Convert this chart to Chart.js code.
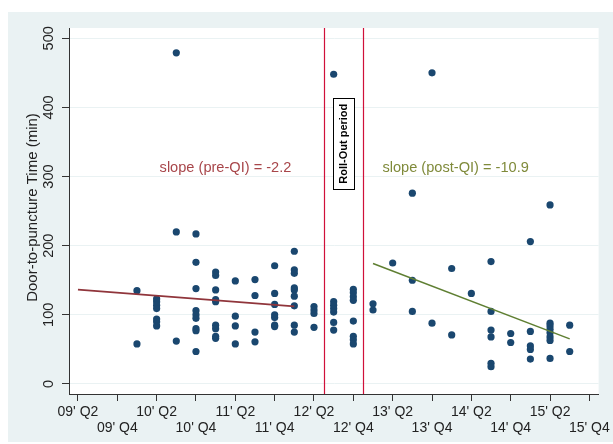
<!DOCTYPE html>
<html>
<head>
<meta charset="utf-8">
<script src="https://cdn.jsdelivr.net/npm/chart.js@4/dist/chart.umd.min.js"></script>
<style>
  html, body { margin: 0; padding: 0; background: #fff; }
  #wrap { position: absolute; left: 8px; top: 12px; width: 605px; height: 430px; background: #eaf2f3; }
</style>
</head>
<body>
<div id="wrap"><canvas id="myChart" width="605" height="430" style="width:605px;height:430px"></canvas></div>
<script>
// quarter index: 0 = 09' Q2, 1 = 09' Q3, ...
const quarterIndex = [3, 4, 5, 6, 7, 8, 9, 10, 11, 12, 13, 14, 15, 16, 17, 18, 19, 20, 21, 22, 23, 24, 25];
const minutesByQuarter = [
  [135, 58],
  [123, 119, 114, 109, 94, 90, 84],
  [479, 220, 62],
  [217, 176, 138, 106, 100, 95, 80, 77, 47],
  [162, 157, 136, 122, 119, 85, 80, 69, 66],
  [149, 98, 84, 58],
  [151, 128, 75, 61],
  [171, 131, 115, 100, 96, 85, 83],
  [192, 165, 160, 139, 136, 127, 113, 85, 75],
  [112, 107, 102, 82],
  [448, 119, 114, 109, 104, 89, 78],
  [137, 132, 126, 121, 91, 69, 64, 58],
  [116, 107],
  [175],
  [276, 150, 105],
  [450, 88],
  [167, 71],
  [131],
  [177, 105, 78, 68, 30, 25],
  [73, 60],
  [206, 76, 55, 50, 36],
  [259, 88, 84, 79, 74, 68, 63, 37],
  [85, 47]
];

// fitted lines (endpoints)
const preQuarters = [0, 11];
const preFit = [136.5, 112.3];
const postQuarters = [15, 25];
const postFit = [174.3, 65.3];

const tickValues = [0, 2, 4, 6, 8, 10, 12, 14, 16, 18, 20, 22, 24, 26];
const quarterLabels = ["09' Q2", "09' Q4", "10' Q2", "10' Q4", "11' Q2", "11' Q4", "12' Q2",
                       "12' Q4", "13' Q2", "13' Q4", "14' Q2", "14' Q4", "15' Q2", "15' Q4"];
const yTicks = [0, 100, 200, 300, 400, 500];

const rolloutStart = 12.5;
const rolloutEnd = 14.5;
const preText = "slope (pre-QI) = -2.2";
const postText = "slope (post-QI) = -10.9";

const FONT = "'Liberation Sans', Arial, sans-serif";

let points = [];
quarterIndex.forEach((q, i) => {
  minutesByQuarter[i].forEach((m) => {
    points.push({ x: q, y: m });
  });
});

const decorPlugin = {
  id: 'decor',
  beforeDraw(chart) {
    const ctx = chart.ctx;
    const a = chart.chartArea;
    ctx.save();
    ctx.fillStyle = '#ffffff';
    ctx.fillRect(a.left, a.top, a.right - a.left, a.bottom - a.top);
    ctx.restore();
  },
  afterDatasetsDraw(chart) {
    const ctx = chart.ctx;
    const a = chart.chartArea;
    const xs = chart.scales.x;
    const ys = chart.scales.y;
    ctx.save();
    // roll-out lines
    ctx.strokeStyle = '#d0103a';
    ctx.lineWidth = 1.2;
    [rolloutStart, rolloutEnd].forEach((q) => {
      const px = Math.round(xs.getPixelForValue(q)) + 0.5;
      ctx.beginPath();
      ctx.moveTo(px, a.top);
      ctx.lineTo(px, a.bottom);
      ctx.stroke();
    });

    // slope labels
    ctx.font = '14.6px ' + FONT;
    ctx.textAlign = 'center';
    ctx.textBaseline = 'middle';
    ctx.fillStyle = '#a8464a';
    ctx.fillText(preText, xs.getPixelForValue(7.5), ys.getPixelForValue(312));
    ctx.fillStyle = '#7f8a3a';
    ctx.fillText(postText, xs.getPixelForValue(19.2), ys.getPixelForValue(312));

    // roll-out box
    const cx = xs.getPixelForValue((rolloutStart + rolloutEnd) / 2);
    const cy = ys.getPixelForValue(347.5);
    const bw = 21, bh = 91;
    ctx.fillStyle = '#ffffff';
    ctx.fillRect(Math.round(cx - bw / 2) + 0.5, Math.round(cy - bh / 2) + 0.5, bw, bh);
    ctx.strokeStyle = '#000000';
    ctx.lineWidth = 1;
    ctx.strokeRect(Math.round(cx - bw / 2) + 0.5, Math.round(cy - bh / 2) + 0.5, bw, bh);
    ctx.translate(cx + 0.5, cy);
    ctx.rotate(-Math.PI / 2);
    ctx.fillStyle = '#000000';
    ctx.font = 'bold 11px ' + FONT;
    ctx.fillText('Roll-Out period', 0, 0);
    ctx.restore();
  },
  afterDraw(chart) {
    const ctx = chart.ctx;
    const ys = chart.scales.y;
    ctx.save();
    ctx.fillStyle = '#222222';
    ctx.font = '14.5px ' + FONT;
    ctx.textAlign = 'center';
    ctx.textBaseline = 'middle';
    yTicks.forEach((v) => {
      ctx.save();
      ctx.translate(41, ys.getPixelForValue(v));
      ctx.rotate(-Math.PI / 2);
      ctx.fillText(String(v), 0, 0);
      ctx.restore();
    });
    ctx.translate(25, 195.5);
    ctx.rotate(-Math.PI / 2);
    ctx.font = '15px ' + FONT;
    ctx.fillText('Door-to-puncture Time (min)', 0, 0);
    ctx.restore();
  }
};

new Chart(document.getElementById('myChart'), {
  type: 'scatter',
  data: {
    datasets: [
      {
        type: 'line',
        data: preQuarters.map((q, i) => ({ x: q, y: preFit[i] })),
        borderColor: '#90353b',
        borderWidth: 1.8,
        pointRadius: 0,
        fill: false,
        order: 0
      },
      {
        type: 'line',
        data: postQuarters.map((q, i) => ({ x: q, y: postFit[i] })),
        borderColor: '#5f7f32',
        borderWidth: 1.5,
        pointRadius: 0,
        fill: false,
        order: 0
      },
      {
        data: points,
        backgroundColor: '#1a476f',
        borderWidth: 0,
        pointRadius: 3.6,
        order: 1
      }
    ]
  },
  options: {
    responsive: false,
    animation: false,
    layout: { padding: { top: 16, right: 12, left: 0, bottom: 0 } },
    plugins: {
      legend: { display: false },
      tooltip: { enabled: false }
    },
    scales: {
      x: {
        type: 'linear',
        min: -0.455,
        max: 26.47,
        afterBuildTicks: (scale) => { scale.ticks = tickValues.map((v) => ({ value: v })); },
        afterFit: (scale) => { scale.height = 48; },
        grid: { drawOnChartArea: false, tickLength: 7, tickColor: '#333333' },
        border: { color: '#333333', width: 1 },
        ticks: {
          autoSkip: false,
          maxRotation: 0,
          minRotation: 0,
          padding: 3,
          color: '#222222',
          font: { family: FONT, size: 14, lineHeight: 1.15 },
          callback: (value) => {
            const idx = tickValues.indexOf(value);
            if (idx < 0) return '';
            return idx % 2 === 0 ? [quarterLabels[idx], ''] : ['', quarterLabels[idx]];
          }
        }
      },
      y: {
        min: -14.5,
        max: 514.9,
        afterBuildTicks: (scale) => { scale.ticks = yTicks.map((v) => ({ value: v })); },
        afterFit: (scale) => { scale.width = 61; },
        grid: { color: '#eaf2f3', lineWidth: 1, tickLength: 7, tickColor: '#333333' },
        border: { color: '#333333', width: 1 },
        ticks: { color: 'rgba(0,0,0,0)', font: { family: FONT, size: 14 } }
      }
    }
  },
  plugins: [decorPlugin]
});
</script>
</body>
</html>
